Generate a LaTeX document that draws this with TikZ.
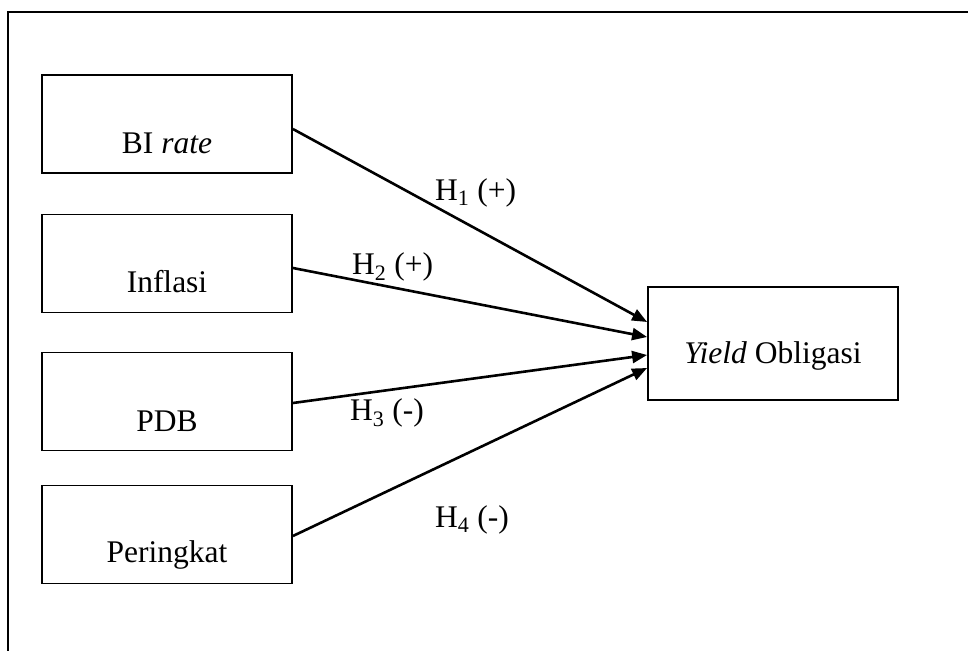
\documentclass[tikz,border=0pt]{standalone}
\usepackage{fontspec}
\setmainfont{Liberation Serif}
\usetikzlibrary{arrows.meta,calc}
\begin{document}
\begin{tikzpicture}[x=1pt,y=-1pt,
  every node/.style={font=\fontsize{31.5}{36}\selectfont},
  varbox/.style={draw,line width=1.8pt,rectangle,inner sep=0pt,minimum width=250pt,minimum height=98pt},
  yieldbox/.style={draw,line width=1.8pt,rectangle,inner sep=0pt,minimum width=250pt,minimum height=113pt},
  boxtext/.style={anchor=base,inner sep=0pt},
  hlabel/.style={anchor=base west,inner sep=0pt},
  conn/.style={line width=2.6pt,-{Triangle[length=15pt,width=12pt]}},
  frame/.style={line width=1.8pt}]
\useasboundingbox (0,0) rectangle (968,650);
% outer frame (open at right and bottom)
\coordinate (fa) at (8,660);
\coordinate (fb) at (8,12);
\coordinate (fc) at (975,12);
\draw[frame] (fa) -- (fb) -- (fc);
% boxes
\node[varbox] (bi) at (167,124) {};
\node[varbox] (inf) at (167,263.5) {};
\node[varbox] (pdb) at (167,401.5) {};
\node[varbox] (per) at (167,534.5) {};
\node[yieldbox] (yo) at (773,343.5) {};
% box texts
\node[boxtext] (tbi) at (167,153) {BI \textit{rate}};
\node[boxtext] (tinf) at (167,292) {Inflasi};
\node[boxtext] (tpdb) at (167,431) {PDB};
\node[boxtext] (tper) at (167,562) {Peringkat};
\node[boxtext] (tyo) at (773,363) {\textit{Yield} Obligasi};
% connectors
\draw[conn] ($(bi.east)+(0,5)$) -- ($(yo.west)+(0,-21.5)$);
\draw[conn] ($(inf.east)+(0,4.5)$) -- ($(yo.west)+(0,-6.5)$);
\draw[conn] ($(pdb.east)+(0,1.5)$) -- ($(yo.west)+(0,11.5)$);
\draw[conn] ($(per.east)+(0,1.5)$) -- ($(yo.west)+(0,24.5)$);
% labels
\node[hlabel] (h1) at (435,200) {H\textsubscript{1} (+)};
\node[hlabel] (h2) at (352,274) {H\textsubscript{2} (+)};
\node[hlabel] (h3) at (350,420) {H\textsubscript{3} (-)};
\node[hlabel] (h4) at (435,527) {H\textsubscript{4} (-)};
\end{tikzpicture}
\end{document}
